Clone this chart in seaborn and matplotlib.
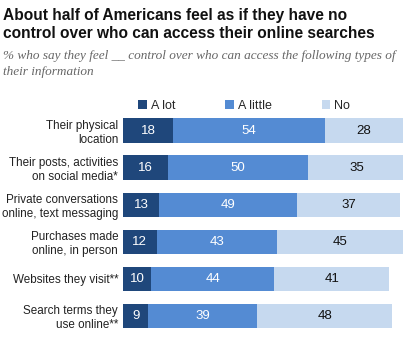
import matplotlib
matplotlib.use("Agg")
import matplotlib.pyplot as plt
import seaborn as sns
import pandas as pd
import numpy as np
from matplotlib.patches import Patch

categories = ["Their physical\nlocation", "Their posts, activities\non social media*",
              "Private conversations\nonline, text messaging", "Purchases made\nonline, in person",
              "Websites they visit**", "Search terms they\nuse online**"]
a_lot = [18, 16, 13, 12, 10, 9]
a_little = [54, 50, 49, 43, 44, 39]
no = [28, 35, 37, 45, 41, 48]
series_names = ["A lot", "A little", "No"]
colors = ["#1f477b", "#548bd3", "#c6d9ef"]

sns.set_theme(style="white")
plt.rcParams['font.family'] = ['Liberation Sans', 'DejaVu Sans']

df = pd.DataFrame({"cat": categories, "a": a_lot, "b": a_little, "c": no})
df["ab"] = df["a"] + df["b"]
df["abc"] = df["ab"] + df["c"]

fig = plt.figure(figsize=(4.13, 3.44), dpi=100)
ax = fig.add_axes([0.298, 0.028, 0.678, 0.646])

for col, color in zip(["abc", "ab", "a"], colors[::-1]):
    sns.barplot(data=df, y="cat", x=col, color=color, orient="h", width=0.66,
                ax=ax, saturation=1, edgecolor="none", linewidth=0)

ax.set_xlim(0, 100)
ax.set_ylim(5.5, -0.5)
ax.set_xlabel("")
ax.set_ylabel("")
ax.set_xticks([])
ax.tick_params(axis="y", length=0, pad=3.5, labelsize=8.4, labelcolor="#222222")
for lbl in ax.get_yticklabels():
    lbl.set_horizontalalignment("right")
    lbl.set_multialignment("right")
    lbl.set_linespacing(1.2)
for s in ax.spines.values():
    s.set_visible(False)

for i in range(len(categories)):
    ax.text(a_lot[i] / 2, i, str(a_lot[i]), ha="center", va="center", color="white", fontsize=9.5)
    ax.text(a_lot[i] + a_little[i] / 2, i, str(a_little[i]), ha="center", va="center", color="white", fontsize=9.5)
    ax.text(a_lot[i] + a_little[i] + no[i] / 2, i, str(no[i]), ha="center", va="center", color="#111111", fontsize=9.5)

handles = [Patch(facecolor=c, edgecolor="none") for c in colors]
fig.legend(handles, series_names, loc="center left", bbox_to_anchor=(0.335, 0.693), ncol=3,
           frameon=False, handlelength=0.7, handleheight=0.7, handletextpad=0.3,
           columnspacing=4.0, fontsize=9.0, borderaxespad=0, borderpad=0)

fig.text(0.008, 0.978, "About half of Americans feel as if they have no\ncontrol over who can access their online searches",
         ha="left", va="top", fontsize=11.2, fontweight="bold", color="#111111", linespacing=1.25)
fig.text(0.008, 0.855, "% who say they feel __ control over who can access the following types of\ntheir information",
         ha="left", va="top", fontsize=9.5, style="italic", color="#666666",
         family=["Liberation Serif", "DejaVu Serif"], linespacing=1.45)

fig.savefig("out.png", dpi=100)
